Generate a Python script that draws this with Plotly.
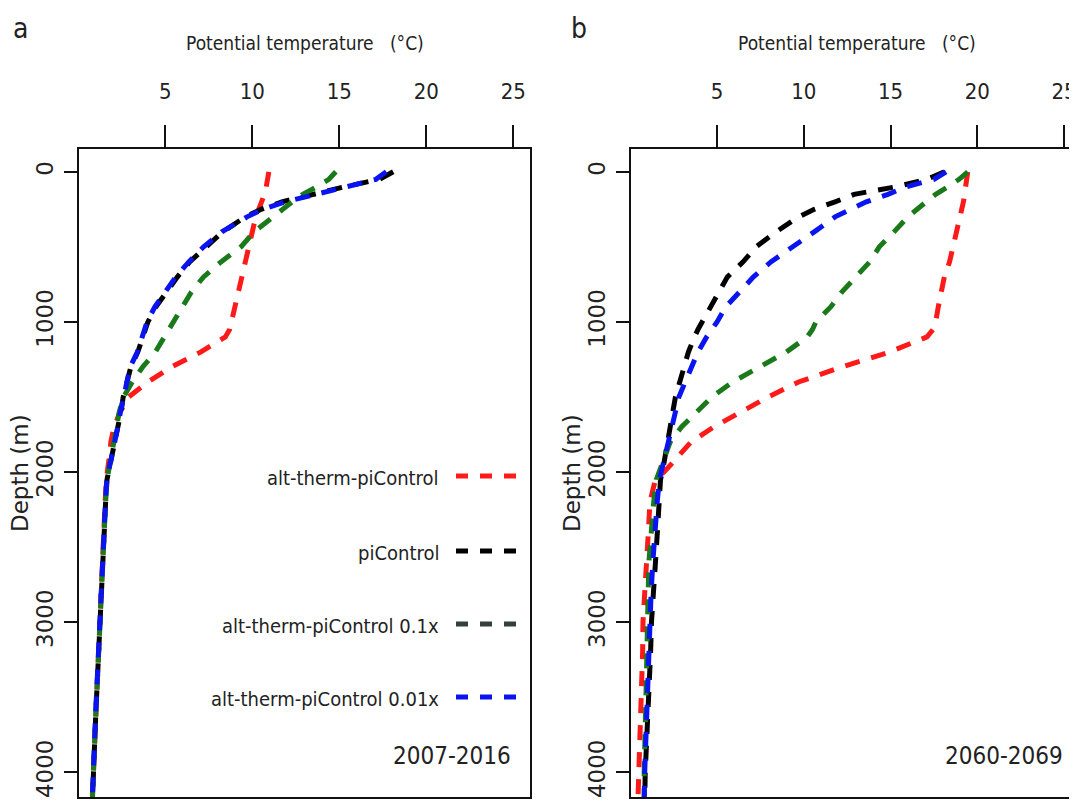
import plotly.graph_objects as go

# ---------------- data ----------------
DEPTH = [0, 50, 100, 150, 200, 250, 300, 400, 500, 600, 700, 800, 900, 1000, 1050, 1100,
         1200, 1300, 1400, 1500, 1600, 1700, 1800, 1900, 1950, 2000, 2050, 2200, 2400,
         2600, 2800, 3000, 3200, 3400, 3600, 3800, 4000, 4200, 4400]

# panel a : 2007-2016
a_alt = [10.95, 10.9, 10.8, 10.7, 10.55, 10.4, 10.2, 10.0, 9.8, 9.6, 9.4, 9.2, 9.0, 8.85, 8.7, 8.45,
         7.05, 5.35, 4.0, 2.9, 2.4, 2.05, 1.87, 1.78, 1.72, 1.64, 1.61, 1.54, 1.46,
         1.37, 1.29, 1.21, 1.14, 1.07, 0.99, 0.92, 0.85, 0.78, 0.72]
a_pic = [18.1, 17.3, 15.3, 13.4, 11.7, 10.5, 9.6, 8.3, 7.3, 6.4, 5.7, 5.1, 4.45, 4.0, 3.85, 3.7,
         3.42, 3.02, 2.8, 2.58, 2.45, 2.28, 2.1, 1.92, 1.82, 1.7, 1.65, 1.57, 1.48,
         1.39, 1.31, 1.23, 1.16, 1.09, 1.01, 0.94, 0.87, 0.8, 0.74]
a_01 = [14.8, 14.4, 13.7, 12.9, 12.3, 11.8, 11.2, 10.1, 9.35, 8.2, 7.2, 6.5, 6.0, 5.5, 5.2, 4.95,
        4.43, 3.7, 3.1, 2.6, 2.35, 2.2, 2.05, 1.88, 1.8, 1.7, 1.65, 1.57, 1.48,
        1.39, 1.31, 1.23, 1.16, 1.09, 1.01, 0.94, 0.87, 0.8, 0.74]
a_001 = [17.7, 17.1, 15.4, 13.5, 11.9, 10.6, 9.7, 8.25, 7.2, 6.35, 5.6, 5.0, 4.4, 3.95, 3.8, 3.65,
         3.4, 2.98, 2.78, 2.57, 2.42, 2.27, 2.08, 1.9, 1.8, 1.68, 1.64, 1.56, 1.47,
         1.38, 1.3, 1.22, 1.15, 1.08, 1.0, 0.93, 0.86, 0.79, 0.73]

# panel b : 2060-2069
b_alt = [19.45, 19.4, 19.35, 19.3, 19.2, 19.1, 19.0, 18.85, 18.6, 18.4, 18.1, 17.9, 17.75, 17.6, 17.45, 17.1,
         14.95, 12.2, 9.7, 7.95, 6.3, 4.8, 3.5, 2.7, 2.35, 1.95, 1.45, 1.13, 1.04,
         0.92, 0.84, 0.73, 0.71, 0.65, 0.58, 0.53, 0.47, 0.42, 0.38]
b_pic = [18.1, 17.1, 15.3, 12.9, 11.8, 10.6, 9.7, 8.4, 7.25, 6.5, 5.6, 5.1, 4.6, 4.1, 3.9, 3.7,
         3.35, 3.1, 2.85, 2.6, 2.45, 2.3, 2.15, 2.05, 1.95, 1.85, 1.74, 1.64, 1.56,
         1.45, 1.31, 1.22, 1.17, 1.09, 0.96, 0.9, 0.86, 0.83, 0.8]
b_01 = [19.45, 18.95, 18.3, 17.6, 17.05, 16.5, 16.0, 15.2, 14.35, 13.8, 13.0, 12.2, 11.55, 10.7, 10.5, 10.2,
        9.0, 7.4, 5.9, 4.7, 3.83, 2.95, 2.3, 2.0, 1.85, 1.7, 1.5, 1.35, 1.18,
        1.07, 1.03, 0.97, 0.95, 0.92, 0.88, 0.82, 0.8, 0.8, 0.78]
b_001 = [18.2, 17.5, 15.9, 14.85, 13.6, 12.7, 11.8, 10.6, 9.3, 8.1, 7.1, 6.3, 5.5, 5.0, 4.7, 4.4,
         3.9, 3.55, 3.15, 2.8, 2.6, 2.4, 2.15, 1.98, 1.9, 1.8, 1.68, 1.55, 1.4,
         1.3, 1.2, 1.13, 1.1, 1.05, 0.97, 0.9, 0.83, 0.8, 0.77]

SERIES_NAMES = ["alt-therm-piControl", "piControl", "alt-therm-piControl 0.1x", "alt-therm-piControl 0.01x"]
SERIES_COLORS = ["#ff1a1a", "#000000", "#1a7a1a", "#0a14f0"]
LEGEND_COLORS = ["#ff1a1a", "#000000", "#34403a", "#0a14f0"]
PANEL_A = [a_alt, a_pic, a_01, a_001]
PANEL_B = [b_alt, b_pic, b_01, b_001]

X_TICKS = [5, 10, 15, 20, 25]
X_TICKTEXT = ["5", "10", "15", "20", "25"]
Y_TICKS = [0, 1000, 2000, 3000, 4000]
Y_TICKTEXT = ["0", "1000", "2000", "3000", "4000"]
X_TITLE = "Potential temperature\u00a0\u00a0\u00a0(°C)"
Y_TITLE = "Depth (m)"
PERIODS = ["2007-2016", "2060-2069"]
LETTERS = ["a", "b"]

# ---------------- layout geometry (page pixels; page body has an 8px margin) ----------------
OFF = 8
W, H = 1077 - OFF, 811 - OFF
NARROW = "DejaVu Sans Condensed, Liberation Sans Narrow, sans-serif"
WIDE = "DejaVu Sans, Verdana, sans-serif"


def px(x):
    return (x - OFF) / W


def py(y):
    return 1 - (y - OFF) / H


A_L, A_R = 79, 530
B_L, B_R = 631, 1077
TOP, BOT = 149, 797

fig = go.Figure()

for vals, col, name in zip(PANEL_A, SERIES_COLORS, SERIES_NAMES):
    fig.add_trace(go.Scatter(x=vals, y=DEPTH, mode="lines", name=name, showlegend=False,
                             line=dict(color=col, width=5, dash="15px,12px"),
                             xaxis="x", yaxis="y"))
for vals, col, name in zip(PANEL_B, SERIES_COLORS, SERIES_NAMES):
    fig.add_trace(go.Scatter(x=vals, y=DEPTH, mode="lines", name=name, showlegend=False,
                             line=dict(color=col, width=5, dash="15px,12px"),
                             xaxis="x2", yaxis="y2"))

xcommon = dict(side="top", tickvals=X_TICKS, ticktext=X_TICKTEXT, ticks="outside",
               ticklen=22, tickwidth=2, tickcolor="#111", showline=True, linewidth=2,
               linecolor="#111", mirror=True, showgrid=False, zeroline=False,
               automargin=False, ticklabeloverflow="allow",
               tickfont=dict(family=NARROW, size=22, color="#222"), ticklabelstandoff=17)
ycommon = dict(tickvals=Y_TICKS, ticktext=Y_TICKTEXT, ticks="outside", ticklen=13,
               tickwidth=2, tickcolor="#111", showline=True, linewidth=2, linecolor="#111",
               showgrid=False, zeroline=False, tickangle=-90, automargin=False,
               ticklabeloverflow="allow", ticklabelstandoff=2,
               tickfont=dict(family=WIDE, size=23, color="#222"),
               range=[4165, -152], domain=[py(BOT), py(TOP)])

B_END = px(B_R)
fig.update_layout(
    width=W, height=H, margin=dict(l=0, r=0, t=0, b=0, pad=0), template="none",
    paper_bgcolor="white", plot_bgcolor="white",
    xaxis=dict(domain=[px(A_L), px(A_R)], range=[0.04, 25.96], anchor="y", **xcommon),
    yaxis=dict(anchor="x", mirror=True, **ycommon),
    xaxis2=dict(domain=[px(B_L), min(B_END, 1.0)], range=[0.04, 0.04 + (B_R - B_L) / 17.35],
                anchor="y2", **xcommon),
    yaxis2=dict(anchor="x2", mirror=False, **ycommon),
)

ann = []
for i, (l, r_full, lx) in enumerate([(A_L, A_R, 20), (B_L, B_L + 451, 579)]):
    ann.append(dict(text=X_TITLE, x=px((l + r_full) / 2), y=py(43), xref="paper", yref="paper",
                    showarrow=False, xanchor="center", yanchor="middle",
                    font=dict(family=NARROW, size=19, color="#222")))
    ann.append(dict(text=LETTERS[i], x=px(lx), y=py(29), xref="paper", yref="paper",
                    showarrow=False, xanchor="center", yanchor="middle",
                    font=dict(family=NARROW, size=28, color="#222")))
    ann.append(dict(text=Y_TITLE, x=px(l - 59), y=py((TOP + BOT) / 2), xref="paper", yref="paper",
                    showarrow=False, xanchor="center", yanchor="middle", textangle=-90,
                    font=dict(family=WIDE, size=23, color="#222")))
    ann.append(dict(text=PERIODS[i], x=px(r_full - 17), y=py(756), xref="paper", yref="paper",
                    showarrow=False, xanchor="right", yanchor="middle",
                    font=dict(family=NARROW, size=24, color="#222")))

LEG_Y = [476, 551, 624, 697]
shapes = []
for name, col, ly in zip(SERIES_NAMES, LEGEND_COLORS, LEG_Y):
    ann.append(dict(text=name, x=px(441), y=py(ly + 2), xref="paper", yref="paper",
                    showarrow=False, xanchor="right", yanchor="middle",
                    font=dict(family=NARROW, size=20, color="#222")))
    shapes.append(dict(type="line", xref="paper", yref="paper", x0=px(456), x1=px(519),
                       y0=py(ly), y1=py(ly), line=dict(color=col, width=5, dash="12px,12px")))

fig.update_layout(annotations=ann, shapes=shapes)
fig.write_html("out.html")
